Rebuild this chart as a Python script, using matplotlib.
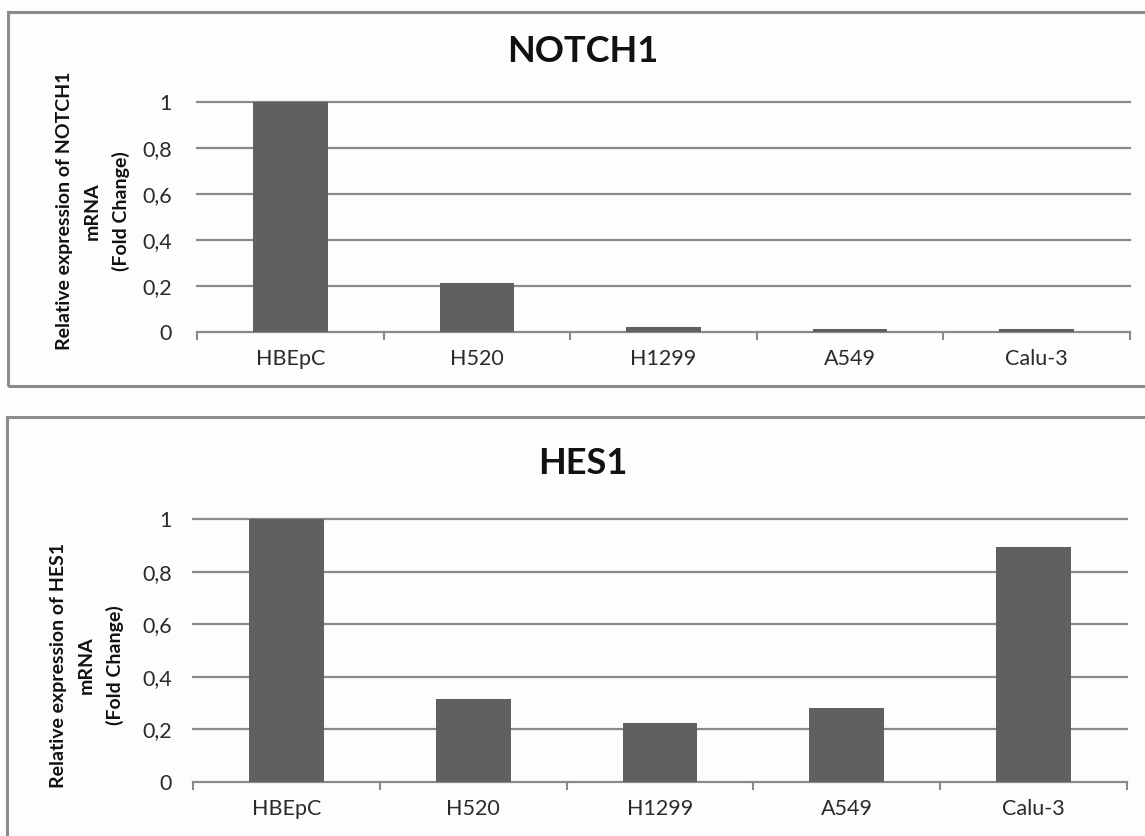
import matplotlib
matplotlib.use("Agg")
import matplotlib.pyplot as plt
from matplotlib.patches import Rectangle
import numpy as np

categories = ["HBEpC", "H520", "H1299", "A549", "Calu-3"]
notch1_values = [1.0, 0.212, 0.022, 0.013, 0.013]
hes1_values = [1.0, 0.315, 0.225, 0.281, 0.895]
yticks = [0, 0.2, 0.4, 0.6, 0.8, 1.0]
ytick_labels = ["0", "0,2", "0,4", "0,6", "0,8", "1"]

W, H = 1145, 836
fig = plt.figure(figsize=(W / 100, H / 100), dpi=100)
fig.patch.set_facecolor("#fdfdfd")
FONT = ["Lato", "DejaVu Sans"]
BAR = "#606060"
GRID = "#8a8a8a"

def fx(px):
    return px / W

def fy(py):
    return 1 - py / H

# panel borders (extend beyond right/bottom edges of the image)
for (x0, y0, x1, y1) in [(8, 12, 1160, 386), (7, 417, 1160, 850)]:
    fig.patches.append(Rectangle((fx(x0), fy(y1)), fx(x1 - x0), (y1 - y0) / H,
                                 transform=fig.transFigure, fill=False,
                                 edgecolor="#8c8c8c", linewidth=2.2, zorder=0))

def panel(rect, values, title, title_y, ylabel, ylabel_x, ylabel_y, pad):
    left, top, right, bottom = rect
    ax = fig.add_axes([fx(left), fy(bottom), fx(right - left), (bottom - top) / H])
    ax.set_facecolor("none")
    x = np.arange(len(categories))
    ax.bar(x, values, width=0.4, color=BAR, zorder=3)
    ax.set_xlim(-0.5, len(categories) - 0.5)
    ax.set_ylim(0, 1)
    ax.set_yticks(yticks)
    ax.set_yticklabels(ytick_labels, fontsize=15.5, family=FONT, color="#2a2a2a")
    for yv in yticks[1:]:
        ax.axhline(yv, color=GRID, linewidth=1.6, zorder=1, clip_on=False)
    ax.tick_params(axis="y", length=0, pad=pad)
    ax.set_xticks(np.arange(len(categories) + 1) - 0.5, minor=False)
    ax.set_xticklabels([""] * (len(categories) + 1))
    ax.tick_params(axis="x", length=6, width=1.5, color=GRID, direction="out")
    ax.set_xticks(x, minor=True)
    ax.set_xticklabels(categories, minor=True, fontsize=15.5, family=FONT, color="#2a2a2a")
    ax.tick_params(axis="x", which="minor", length=0, pad=12)
    for s in ["left", "right", "top"]:
        ax.spines[s].set_visible(False)
    ax.spines["bottom"].set_color(GRID)
    ax.spines["bottom"].set_linewidth(1.6)
    fig.text(fx(583), fy(title_y), title, ha="center", va="center",
             fontsize=26, fontweight="bold", family=FONT, color="#111111")
    fig.text(fx(ylabel_x), fy(ylabel_y), ylabel, ha="center", va="center",
             rotation=90, fontsize=14, fontweight="bold", family=FONT,
             color="#111111", multialignment="center", linespacing=1.75)
    return ax

panel((197, 102, 1130, 332), notch1_values, "NOTCH1", 52,
      "Relative expression of NOTCH1\nmRNA\n(Fold Change)", 93, 211, 18)
panel((193, 519, 1127, 782), hes1_values, "HES1", 463,
      "Relative expression of HES1\nmRNA\n(Fold Change)", 87, 665, 15)

fig.savefig("out.png", dpi=100, facecolor=fig.get_facecolor())
